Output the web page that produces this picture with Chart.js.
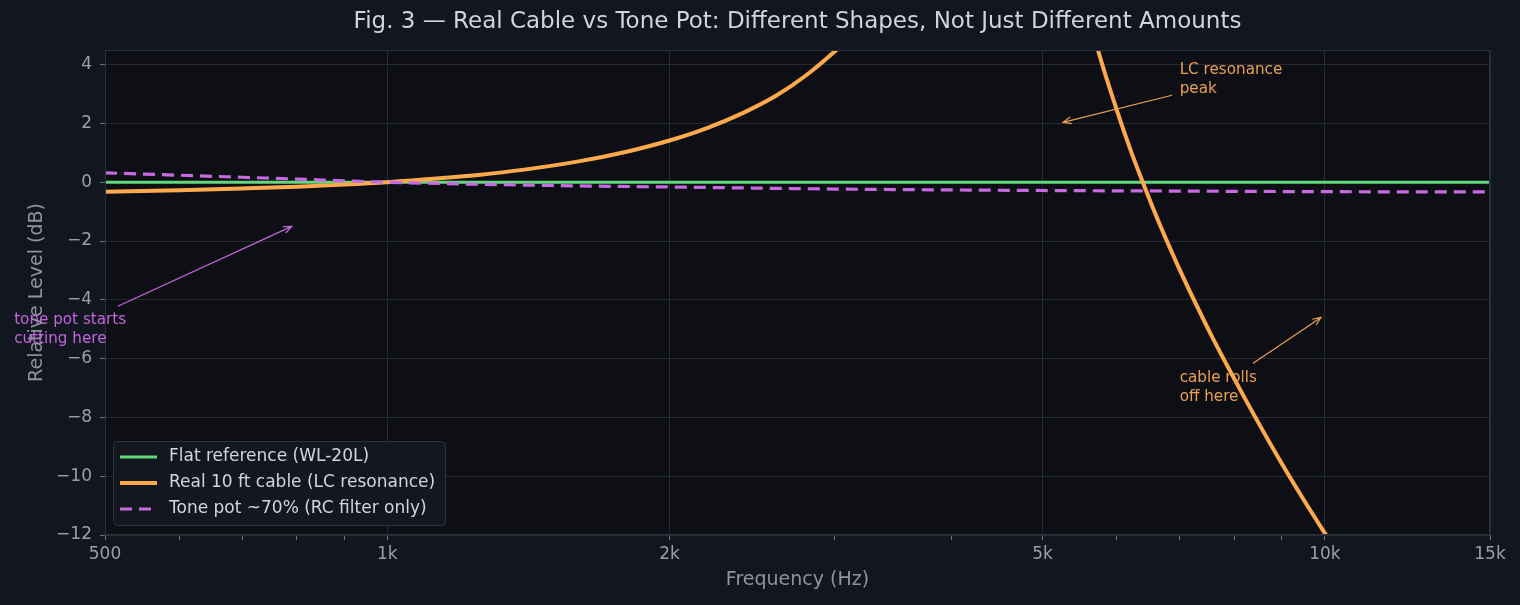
<!DOCTYPE html>
<html>
<head>
<meta charset="utf-8">
<script src="https://cdn.jsdelivr.net/npm/chart.js@4.4.1/dist/chart.umd.min.js"></script>
<style>
  html, body { margin: 0; padding: 0; background: #121620; }
  #wrap { width: 1520px; height: 605px; }
</style>
</head>
<body>
<div id="wrap"><canvas id="grafico" width="1520" height="605"></canvas></div>
<script>
// datos (frecuencia en Hz, nivel en dB)
const freqPlano = [500, 15000];
const nivelPlano = [0, 0];

// el pico (4.2k - 5.4k) queda fuera del grafico, valores estimados
const freqCable = [500, 600, 700, 800, 900, 1000, 1100, 1250, 1400, 1600, 1800, 2000, 2200, 2400, 2600, 2800, 3000, 3200, 3500, 3800, 4200, 4575, 5000, 5400, 5728, 6000, 6200, 6400, 6700, 7000, 7300, 7600, 8200, 8950, 9500, 10050, 10600];
const nivelCable = [-0.32, -0.27, -0.21, -0.15, -0.08, 0, 0.1, 0.25, 0.43, 0.71, 1.04, 1.42, 1.86, 2.37, 2.95, 3.65, 4.45, 5.3, 7.1, 9.7, 15.5, 22, 13.8, 7.7, 4.5, 2.45, 1.13, -0.03, -1.6, -2.97, -4.2, -5.33, -7.3, -9.45, -10.82, -12.05, -13.2];

const freqTono = [500, 600, 700, 800, 900, 1000, 1500, 2000, 3000, 5000, 7000, 10000, 15000];
const nivelTono = [0.32, 0.24, 0.17, 0.11, 0.05, 0, -0.11, -0.16, -0.23, -0.28, -0.3, -0.32, -0.33];

const ticksMayores = [500, 1000, 2000, 5000, 10000, 15000];
const etiquetasX = ["500", "1k", "2k", "5k", "10k", "15k"];
const ticksMenores = [600, 700, 800, 900, 3000, 4000, 6000, 7000, 8000, 9000];
const ticksY = [-12, -10, -8, -6, -4, -2, 0, 2, 4];

const nombres = ["Flat reference (WL-20L)", "Real 10 ft cable (LC resonance)", "Tone pot ~70% (RC filter only)"];

const aPuntos = (xs, ys) => xs.map((x, i) => ({ x: x, y: ys[i] }));

Chart.defaults.font.family = "'DejaVu Sans', sans-serif";

// notas con flecha (posiciones en valores de datos)
const notas = [
  { lineas: ["LC resonance", "peak"], texto: [7000, 3.81], cola: [6870, 2.96], punta: [5256, 2.04], color: "#eba04f" },
  { lineas: ["cable rolls", "off here"], texto: [7000, -6.67], cola: [8383, -6.16], punta: [9906, -4.6], color: "#eba04f" },
  { lineas: ["tone pot starts", "cutting here"], texto: [400, -4.69], cola: [516, -4.22], punta: [791, -1.5], color: "#c466dc" },
];

const fondo = {
  id: "fondo",
  beforeDraw(chart) {
    const { ctx, chartArea: a } = chart;
    ctx.save();
    ctx.fillStyle = "#121620";
    ctx.fillRect(0, 0, chart.width, chart.height);
    ctx.fillStyle = "#0d0f15";
    ctx.fillRect(a.left, a.top, a.right - a.left, a.bottom - a.top);
    ctx.restore();
  },
};

const extras = {
  id: "extras",
  afterDraw(chart) {
    const { ctx, chartArea: a } = chart;
    const sx = chart.scales.x;
    const sy = chart.scales.y;
    ctx.save();
    // marco del area de trazado
    ctx.strokeStyle = "#2b303c";
    ctx.lineWidth = 1;
    ctx.strokeRect(a.left + 0.5, a.top + 0.5, a.right - a.left - 1, a.bottom - a.top - 1);

    // notas
    notas.forEach((n) => {
      const x0 = sx.getPixelForValue(n.cola[0]);
      const y0 = sy.getPixelForValue(n.cola[1]);
      const x1 = sx.getPixelForValue(n.punta[0]);
      const y1 = sy.getPixelForValue(n.punta[1]);
      ctx.strokeStyle = n.color;
      ctx.lineWidth = 1.2;
      ctx.beginPath();
      ctx.moveTo(x0, y0);
      ctx.lineTo(x1, y1);
      const ang = Math.atan2(y1 - y0, x1 - x0);
      const largo = 9;
      ctx.moveTo(x1 - largo * Math.cos(ang - 0.4), y1 - largo * Math.sin(ang - 0.4));
      ctx.lineTo(x1, y1);
      ctx.lineTo(x1 - largo * Math.cos(ang + 0.4), y1 - largo * Math.sin(ang + 0.4));
      ctx.stroke();

      ctx.fillStyle = n.color;
      ctx.font = "15.2px 'DejaVu Sans'";
      ctx.textBaseline = "middle";
      ctx.textAlign = "left";
      const tx = sx.getPixelForValue(n.texto[0]);
      const ty = sy.getPixelForValue(n.texto[1]);
      n.lineas.forEach((l, i) => ctx.fillText(l, tx, ty + i * 18.5));
    });

    // leyenda dentro del grafico
    const lx = a.left + 8;
    const ly = a.bottom - 94;
    ctx.fillStyle = "rgba(21, 24, 32, 0.92)";
    ctx.strokeStyle = "#2e3340";
    ctx.lineWidth = 1;
    ctx.beginPath();
    ctx.roundRect(lx + 0.5, ly + 0.5, 332, 84, 4);
    ctx.fill();
    ctx.stroke();
    ctx.font = "17px 'DejaVu Sans'";
    ctx.textBaseline = "middle";
    chart.data.datasets.forEach((ds, i) => {
      const yy = ly + 16 + i * 26;
      ctx.strokeStyle = ds.borderColor;
      ctx.lineWidth = ds.borderWidth;
      ctx.setLineDash(ds.borderDash || []);
      ctx.beginPath();
      ctx.moveTo(lx + 7, yy);
      ctx.lineTo(lx + 44, yy);
      ctx.stroke();
      ctx.setLineDash([]);
      ctx.fillStyle = "#d2d5dc";
      ctx.fillText(ds.label, lx + 56, yy);
    });
    ctx.restore();
  },
};

const ctx = document.getElementById("grafico");
const grafico = new Chart(ctx, {
  type: "line",
  data: {
    datasets: [
      {
        label: nombres[0],
        data: aPuntos(freqPlano, nivelPlano),
        borderColor: "#63d77c",
        borderWidth: 3,
        order: 3,
      },
      {
        label: nombres[1],
        data: aPuntos(freqCable, nivelCable),
        borderColor: "#ffa94d",
        borderWidth: 4,
        cubicInterpolationMode: "monotone",
        order: 2,
      },
      {
        label: nombres[2],
        data: aPuntos(freqTono, nivelTono),
        borderColor: "#c86ae2",
        borderWidth: 3.2,
        borderDash: [12, 7],
        cubicInterpolationMode: "monotone",
        order: 1,
      },
    ],
  },
  options: {
    responsive: false,
    animation: false,
    elements: { point: { radius: 0 } },
    layout: { padding: { left: 0, right: 30, top: 0, bottom: 0 } },
    scales: {
      x: {
        type: "logarithmic",
        min: 500,
        max: 15000,
        afterBuildTicks: (scale) => {
          scale.ticks = [...ticksMayores, ...ticksMenores].sort((p, q) => p - q).map((v) => ({ value: v }));
        },
        afterFit: (scale) => {
          scale.height = 70;
        },
        ticks: {
          autoSkip: false,
          maxRotation: 0,
          color: "#9aa0aa",
          font: { size: 17 },
          padding: 4,
          callback: (v) => {
            const i = ticksMayores.indexOf(v);
            return i >= 0 ? etiquetasX[i] : "";
          },
        },
        grid: {
          color: (c) => (c.tick && ticksMayores.includes(c.tick.value) ? "#262b36" : "rgba(0,0,0,0)"),
          tickColor: "#6b717c",
          tickLength: 5,
        },
        border: { display: false },
        title: {
          display: true,
          text: "Frequency (Hz)",
          color: "#8d939d",
          font: { size: 19 },
          padding: { top: 0, bottom: 13.6 },
        },
      },
      y: {
        min: -12,
        max: 4.5,
        afterBuildTicks: (scale) => {
          scale.ticks = ticksY.map((v) => ({ value: v }));
        },
        afterFit: (scale) => {
          scale.width = 105;
        },
        ticks: {
          color: "#9aa0aa",
          font: { size: 17 },
          padding: 8,
          callback: (v) => String(v).replace("-", "\u2212"),
        },
        grid: {
          color: "#262b36",
          tickColor: "#6b717c",
          tickLength: 5,
        },
        border: { display: false },
        title: {
          display: true,
          text: "Relative Level (dB)",
          color: "#8d939d",
          font: { size: 19 },
          padding: { top: 25.6, bottom: 0 },
        },
      },
    },
    plugins: {
      legend: { display: false },
      tooltip: { enabled: false },
      title: {
        display: true,
        fullSize: false,
        text: "Fig. 3 \u2014 Real Cable vs Tone Pot: Different Shapes, Not Just Different Amounts",
        color: "#d0d4dc",
        font: { size: 23, weight: "normal" },
        padding: { top: 8, bottom: 14.4 },
      },
    },
  },
  plugins: [fondo, extras],
});
</script>
</body>
</html>
